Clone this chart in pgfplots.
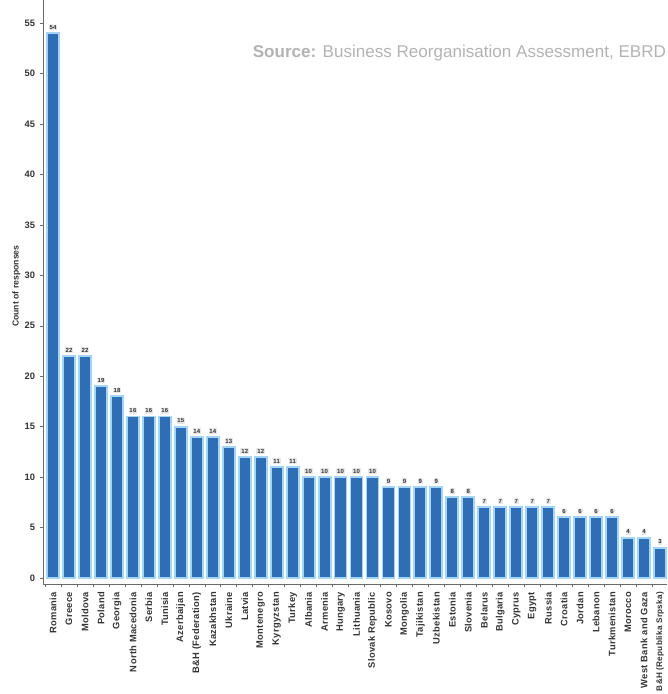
\documentclass[border=0pt]{standalone}
\usepackage{fontspec}
\setmainfont{Liberation Sans}
\newfontfamily\lblfont[LetterSpace=3.5]{Liberation Sans}
\usepackage{pgfplots}
\pgfplotsset{compat=1.18}
\definecolor{barblue}{HTML}{2F6DB5}
\definecolor{baredge}{HTML}{A3D5F7}
\definecolor{srcgray}{HTML}{B3B3B3}
\definecolor{axgray}{HTML}{6A6A6A}
\definecolor{txtgray}{HTML}{333333}
\begin{document}
\begin{tikzpicture}
\begin{axis}[
  scale only axis, width=468pt, height=438pt,
  xmin=-0.63, xmax=38.44, ymin=-0.6, ymax=57.3,
  ybar, bar width=9pt,
  axis y line*=left, axis x line*=bottom,
  axis line style={axgray, line width=0.5pt},
  /pgf/number format/assume math mode=true,
  tick align=outside,
  ytick={0,5,...,55},
  major tick length=2.5pt,
  xtick={0,...,38},
  x tick style={draw=none},
  minor xtick={-0.5,0.5,...,38.5},
  minor x tick style={draw=axgray, line width=0.4pt},
  minor tick length=2.5pt,
  y tick style={axgray, line width=0.4pt},
  xticklabels={Romania,Greece,Moldova,Poland,Georgia,North Macedonia,Serbia,Tunisia,Azerbaijan,B\&H (Federation),Kazakhstan,Ukraine,Latvia,Montenegro,Kyrgyzstan,Turkey,Albania,Armenia,Hungary,Lithuania,Slovak Republic,Kosovo,Mongolia,Tajikistan,Uzbekistan,Estonia,Slovenia,Belarus,Bulgaria,Cyprus,Egypt,Russia,Croatia,Jordan,Lebanon,Turkmenistan,Morocco,West Bank and Gaza,{\fontsize{6.1}{7}\selectfont B\&H (Republika Srpska)}},
  xticklabel style={rotate=90, anchor=east, font=\lblfont\fontsize{7}{8}\selectfont\bfseries, text=txtgray},
  yticklabel style={font=\fontsize{7}{8}\selectfont\bfseries, text=txtgray},
  ylabel={Count of responses},
  every axis y label/.style={at={(rel axis cs:0,0.51)}, xshift=-20pt, rotate=90, anchor=center, font=\fontsize{6.5}{7}\selectfont\bfseries, text=txtgray},
  nodes near coords,
  every node near coord/.append style={font=\lblfont\fontsize{4.5}{5}\selectfont\bfseries, text=txtgray, fill=gray!18, inner sep=0.6pt, anchor=south, yshift=1.5pt},
]
\addplot[fill=barblue, draw=baredge, line width=1.4pt] coordinates {
(0,54) (1,22) (2,22) (3,19) (4,18) (5,16) (6,16) (7,16) (8,15) (9,14)
(10,14) (11,13) (12,12) (13,12) (14,11) (15,11) (16,10) (17,10) (18,10) (19,10)
(20,10) (21,9) (22,9) (23,9) (24,9) (25,8) (26,8) (27,7) (28,7) (29,7)
(30,7) (31,7) (32,6) (33,6) (34,6) (35,6) (36,4) (37,4) (38,3)
};
\coordinate (sw) at (rel axis cs:0,0);
\coordinate (ne) at (rel axis cs:1,1);
\end{axis}
\node[anchor=base east, text=srcgray, font=\fontsize{12.8}{15}\selectfont, inner sep=0pt] at ([shift={(-0.5pt,-43.5pt)}]ne) {\textbf{Source:} Business Reorganisation Assessment, EBRD};
\pgfresetboundingbox
\useasboundingbox ([shift={(-32.25pt,-82.5pt)}]sw) rectangle (ne);
\end{tikzpicture}
\end{document}
